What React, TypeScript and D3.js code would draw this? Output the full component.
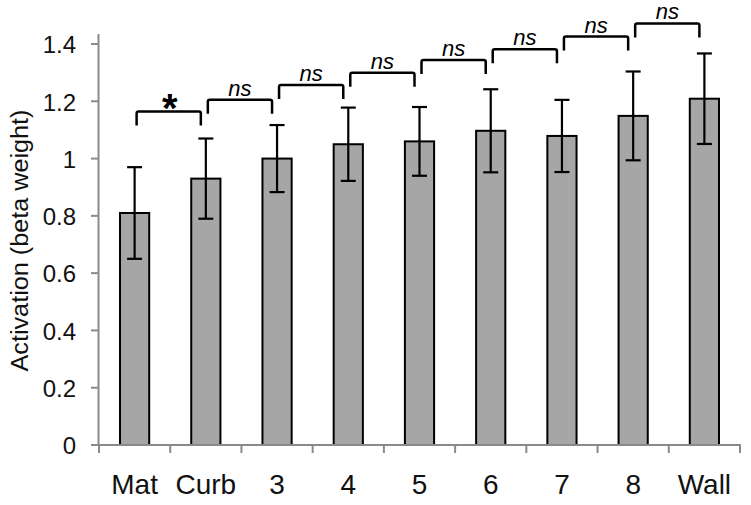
import React from "react";
import * as d3 from "d3";

const categories = ["Mat", "Curb", "3", "4", "5", "6", "7", "8", "Wall"];
const means = [0.81, 0.93, 1.0, 1.05, 1.06, 1.097, 1.079, 1.149, 1.209];
const errors = [0.16, 0.14, 0.117, 0.128, 0.12, 0.145, 0.126, 0.155, 0.158];
const yTicks = [0, 0.2, 0.4, 0.6, 0.8, 1, 1.2, 1.4];
const bracketLevels = [1.164, 1.205, 1.257, 1.3, 1.344, 1.382, 1.426, 1.472];
const bracketLabels = ["*", "ns", "ns", "ns", "ns", "ns", "ns", "ns"];
const yTitle = "Activation (beta weight)";

const W = 751;
const H = 505;
const FONT = "'Liberation Sans', Arial, Helvetica, sans-serif";

export default function App() {
  const x = d3.scaleBand<string>().domain(categories).range([99, 740]).padding(0);
  const y = d3.scaleLinear().domain([0, 1.4]).range([445, 44]);
  const bw = x.bandwidth() * 0.41;
  const cx = (c: string) => (x(c) as number) + x.bandwidth() / 2;
  const axisColor = "#8a8a8a";
  const capW = 15;
  const drop = 14;

  return (
    <svg
      width={W}
      height={H}
      style={{ position: "absolute", left: 0, top: 0, display: "block", background: "#fff" }}
      fontFamily={FONT}
    >
      {/* bars */}
      {categories.map((c, i) => (
        <rect
          key={"b" + c}
          x={cx(c) - bw / 2}
          y={y(means[i])}
          width={bw}
          height={y(0) - y(means[i])}
          fill="#a6a6a6"
          stroke="#000"
          strokeWidth={2}
        />
      ))}
      {/* error bars */}
      {categories.map((c, i) => {
        const hi = y(means[i] + errors[i]);
        const lo = y(means[i] - errors[i]);
        const xc = cx(c);
        return (
          <g key={"e" + c} stroke="#000" strokeWidth={2.2}>
            <line x1={xc} x2={xc} y1={hi} y2={lo} />
            <line x1={xc - capW / 2} x2={xc + capW / 2} y1={hi} y2={hi} />
            <line x1={xc - capW / 2} x2={xc + capW / 2} y1={lo} y2={lo} />
          </g>
        );
      })}
      {/* y axis */}
      <line x1={98.5} x2={98.5} y1={y(1.4) - 10} y2={y(0)} stroke={axisColor} strokeWidth={2} />
      {yTicks.map((t) => (
        <g key={"yt" + t}>
          <line x1={91} x2={98.5} y1={y(t)} y2={y(t)} stroke={axisColor} strokeWidth={2} />
          <text
            x={76}
            y={y(t) + 3}
            textAnchor="end"
            dominantBaseline="middle"
            fontSize={24}
            fill="#111"
          >
            {d3.format("~g")(t)}
          </text>
        </g>
      ))}
      {/* x axis */}
      <line x1={98} x2={741} y1={y(0)} y2={y(0)} stroke={axisColor} strokeWidth={2} />
      {[...categories.map((c) => x(c) as number), 740].map((t, i) => (
        <line key={"xt" + i} x1={t} x2={t} y1={y(0)} y2={y(0) + 8} stroke={axisColor} strokeWidth={2} />
      ))}
      {categories.map((c) => (
        <text key={"xl" + c} x={cx(c)} y={494} textAnchor="middle" fontSize={28} fill="#111">
          {c}
        </text>
      ))}
      {/* y title */}
      <text
        transform={`translate(28,240.5) rotate(-90)`}
        textAnchor="middle"
        fontSize={23}
        fill="#111"
        textLength={262}
        lengthAdjust="spacingAndGlyphs"
      >
        {yTitle}
      </text>
      {/* significance brackets */}
      {bracketLevels.map((lv, i) => {
        const x1 = cx(categories[i]) + 2;
        const x2 = cx(categories[i + 1]) - 5;
        const yt = y(lv);
        const mid = (x1 + x2) / 2;
        return (
          <g key={"br" + i}>
            <path
              d={`M${x1},${yt + drop} L${x1},${yt + 2} Q${x1},${yt} ${x1 + 2},${yt} L${x2 - 2},${yt} Q${x2},${yt} ${x2},${yt + 2} L${x2},${yt + drop}`}
              fill="none"
              stroke="#000"
              strokeWidth={2.5}
            />
            {bracketLabels[i] === "*" ? (
              <text x={mid + 1} y={yt + 10.5} textAnchor="middle" fontSize={40} fontWeight="bold" fill="#000">
                {bracketLabels[i]}
              </text>
            ) : (
              <text x={mid} y={yt - 4} textAnchor="middle" fontSize={22} fontStyle="italic" fill="#000">
                {bracketLabels[i]}
              </text>
            )}
          </g>
        );
      })}
    </svg>
  );
}
